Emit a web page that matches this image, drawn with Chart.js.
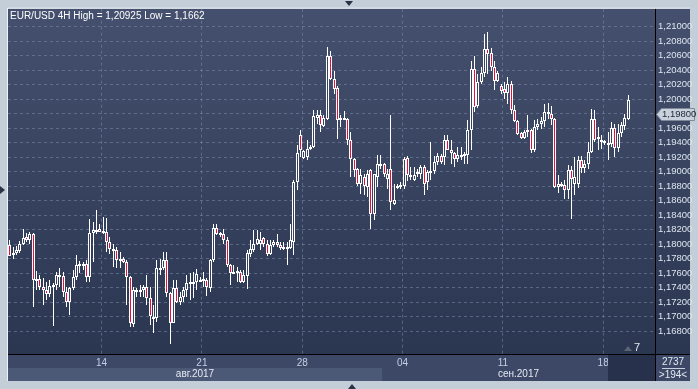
<!DOCTYPE html>
<html>
<head>
<meta charset="utf-8">
<script src="https://cdn.jsdelivr.net/npm/chart.js@4/dist/chart.umd.min.js"></script>
<style>
  html, body { margin: 0; padding: 0; background: #c4ced9; }
  canvas { display: block; }
</style>
</head>
<body>
<canvas id="chart" width="698" height="389"></canvas>
<script>

// EUR/USD 4H candles (oldest first)
const opens = [
  1.17988, 1.17859, 1.17882, 1.17910, 1.18010, 1.18102, 1.18065, 1.18139, 1.17497, 1.17515,
  1.17414, 1.17369, 1.17314, 1.17424, 1.17437, 1.17575, 1.17561, 1.17346, 1.17208, 1.17391,
  1.17552, 1.17712, 1.17735, 1.17735, 1.17543, 1.18162, 1.18185, 1.18212, 1.18157, 1.18171,
  1.18033, 1.17910, 1.17919, 1.17772, 1.17804, 1.17758, 1.17543, 1.16901, 1.17346, 1.17359,
  1.17369, 1.17414, 1.17254, 1.16992, 1.16988, 1.17653, 1.17667, 1.17781, 1.17323, 1.16919,
  1.17391, 1.17208, 1.17277, 1.17369, 1.17460, 1.17460, 1.17483, 1.17497, 1.17497, 1.17506,
  1.17391, 1.17781, 1.18231, 1.18139, 1.18148, 1.18065, 1.17712, 1.17612, 1.17612, 1.17621,
  1.17483, 1.17561, 1.17873, 1.17928, 1.18001, 1.18001, 1.18088, 1.18001, 1.17873, 1.17988,
  1.18033, 1.17988, 1.17955, 1.17955, 1.17955, 1.18034, 1.18859, 1.19510, 1.19194, 1.19203,
  1.19309, 1.19341, 1.19744, 1.19776, 1.19625, 1.19730, 1.20602, 1.20281, 1.20157, 1.19717,
  1.19717, 1.19730, 1.19432, 1.19180, 1.19043, 1.18827, 1.18928, 1.18791, 1.19029, 1.18424,
  1.18928, 1.19079, 1.19102, 1.18905, 1.19043, 1.18561, 1.18781, 1.18791, 1.18800, 1.19189,
  1.18928, 1.18882, 1.18965, 1.18974, 1.19066, 1.18859, 1.18997, 1.19011, 1.19134, 1.19212,
  1.19203, 1.19432, 1.19304, 1.19258, 1.19180, 1.19212, 1.19235, 1.19235, 1.19579, 1.20418,
  1.19900, 1.20235, 1.20359, 1.20693, 1.20638, 1.20441, 1.20258, 1.20189, 1.20143, 1.20084,
  1.20212, 1.19845, 1.19698, 1.19533, 1.19469, 1.19547, 1.19570, 1.19295, 1.19616, 1.19662,
  1.19698, 1.19822, 1.19799, 1.19730, 1.18791, 1.18836, 1.18813, 1.18754, 1.19029, 1.18827,
  1.18827, 1.19167, 1.19056, 1.19111, 1.19272, 1.19730, 1.19451, 1.19410, 1.19400, 1.19387,
  1.19387, 1.19607, 1.19332, 1.19533, 1.19625, 1.19730
];
const highs = [
  1.18056, 1.17965, 1.17974, 1.18043, 1.18217, 1.18157, 1.18171, 1.18157, 1.17634, 1.17575,
  1.17529, 1.17483, 1.17506, 1.17460, 1.17621, 1.17667, 1.17621, 1.17414, 1.17414, 1.17644,
  1.17850, 1.17772, 1.17758, 1.17781, 1.18354, 1.18308, 1.18469, 1.18286, 1.18377, 1.18368,
  1.18102, 1.18010, 1.17965, 1.17896, 1.17827, 1.17790, 1.17561, 1.17414, 1.17391, 1.17437,
  1.17437, 1.17575, 1.17414, 1.17162, 1.17781, 1.17804, 1.17896, 1.17896, 1.17346, 1.17506,
  1.17506, 1.17346, 1.17414, 1.17575, 1.17598, 1.17621, 1.17653, 1.17552, 1.17621, 1.17529,
  1.17804, 1.18276, 1.18276, 1.18171, 1.18217, 1.18102, 1.17735, 1.17712, 1.17689, 1.17644,
  1.17644, 1.17919, 1.18056, 1.18194, 1.18203, 1.18171, 1.18102, 1.18056, 1.18065, 1.18056,
  1.18139, 1.18033, 1.18033, 1.18033, 1.18286, 1.18882, 1.19364, 1.19579, 1.19304, 1.19432,
  1.19364, 1.19845, 1.19845, 1.19854, 1.19776, 1.20716, 1.20670, 1.20386, 1.20189, 1.19776,
  1.19836, 1.19744, 1.19547, 1.19189, 1.19056, 1.19043, 1.18974, 1.19029, 1.19043, 1.18974,
  1.19226, 1.19226, 1.19121, 1.19043, 1.19785, 1.18836, 1.18836, 1.18859, 1.19203, 1.19212,
  1.19066, 1.19066, 1.19043, 1.19098, 1.19098, 1.19020, 1.19410, 1.19212, 1.19258, 1.19249,
  1.19501, 1.19501, 1.19432, 1.19272, 1.19341, 1.19341, 1.19272, 1.19708, 1.20533, 1.20602,
  1.20349, 1.20441, 1.20900, 1.20925, 1.20707, 1.20524, 1.20395, 1.20212, 1.20235, 1.20304,
  1.20258, 1.19914, 1.19708, 1.19547, 1.19570, 1.19776, 1.19593, 1.19708, 1.19730, 1.19753,
  1.19928, 1.19946, 1.19900, 1.19744, 1.18951, 1.18859, 1.18882, 1.19089, 1.19075, 1.19203,
  1.19212, 1.19212, 1.19167, 1.19410, 1.19868, 1.19845, 1.19616, 1.19501, 1.19432, 1.19547,
  1.19685, 1.19662, 1.19662, 1.19685, 1.19799, 1.20065
];
const lows = [
  1.17836, 1.17804, 1.17850, 1.17882, 1.17988, 1.18033, 1.18010, 1.17130, 1.17369, 1.17369,
  1.17162, 1.17231, 1.17277, 1.16873, 1.17369, 1.17414, 1.17277, 1.17139, 1.17025, 1.17369,
  1.17506, 1.17598, 1.17644, 1.17483, 1.17483, 1.17758, 1.18148, 1.18166, 1.18148, 1.17896,
  1.17873, 1.17689, 1.17667, 1.17667, 1.17745, 1.17162, 1.16864, 1.16864, 1.17277, 1.17277,
  1.17277, 1.17162, 1.16887, 1.16782, 1.16933, 1.17575, 1.17644, 1.17277, 1.16620, 1.16910,
  1.17185, 1.17162, 1.17208, 1.17277, 1.17231, 1.17254, 1.17369, 1.17483, 1.17414, 1.17286,
  1.17346, 1.17758, 1.18125, 1.18102, 1.18010, 1.17689, 1.17437, 1.17598, 1.17483, 1.17460,
  1.17460, 1.17378, 1.17827, 1.17896, 1.17988, 1.17919, 1.17965, 1.17836, 1.17850, 1.17965,
  1.17965, 1.17919, 1.17919, 1.17712, 1.17942, 1.17846, 1.18745, 1.19203, 1.19180, 1.19157,
  1.19295, 1.19332, 1.19662, 1.19547, 1.19616, 1.19708, 1.20267, 1.20074, 1.19455, 1.19616,
  1.19708, 1.19364, 1.18928, 1.18928, 1.18800, 1.18699, 1.18676, 1.18653, 1.18208, 1.18332,
  1.18791, 1.19043, 1.18928, 1.18768, 1.18470, 1.18538, 1.18768, 1.18768, 1.18768, 1.18873,
  1.18882, 1.18868, 1.18928, 1.18905, 1.18676, 1.18745, 1.18882, 1.18974, 1.19089, 1.19111,
  1.19089, 1.19295, 1.19111, 1.19066, 1.19134, 1.19157, 1.19111, 1.19111, 1.19295, 1.19822,
  1.19882, 1.20212, 1.20304, 1.20349, 1.20395, 1.20129, 1.20235, 1.20074, 1.20006, 1.19937,
  1.19799, 1.19685, 1.19501, 1.19455, 1.19455, 1.19478, 1.19258, 1.19272, 1.19570, 1.19593,
  1.19616, 1.19730, 1.19639, 1.18781, 1.18708, 1.18791, 1.18630, 1.18630, 1.18355, 1.18676,
  1.18781, 1.18983, 1.18983, 1.19043, 1.19258, 1.19410, 1.19295, 1.19318, 1.19364, 1.19157,
  1.19341, 1.19203, 1.19272, 1.19478, 1.19570, 1.19717
];
const closes = [
  1.17841, 1.17887, 1.17928, 1.18010, 1.18093, 1.18065, 1.18139, 1.17506, 1.17515, 1.17414,
  1.17369, 1.17314, 1.17428, 1.17442, 1.17575, 1.17552, 1.17346, 1.17208, 1.17391, 1.17552,
  1.17712, 1.17735, 1.17699, 1.17543, 1.18162, 1.18194, 1.18203, 1.18176, 1.18185, 1.18033,
  1.17942, 1.17937, 1.17781, 1.17795, 1.17758, 1.17552, 1.16910, 1.17369, 1.17369, 1.17369,
  1.17414, 1.17254, 1.17011, 1.17002, 1.17667, 1.17667, 1.17781, 1.17323, 1.16919, 1.17391,
  1.17208, 1.17277, 1.17369, 1.17460, 1.17474, 1.17483, 1.17589, 1.17506, 1.17515, 1.17405,
  1.17781, 1.18231, 1.18148, 1.18157, 1.18056, 1.17712, 1.17607, 1.17625, 1.17630, 1.17483,
  1.17575, 1.17882, 1.17942, 1.18001, 1.18079, 1.18065, 1.18001, 1.17873, 1.17988, 1.18033,
  1.17988, 1.17955, 1.17965, 1.17965, 1.18056, 1.18859, 1.19258, 1.19295, 1.19286, 1.19318,
  1.19341, 1.19763, 1.19776, 1.19648, 1.19744, 1.20602, 1.20281, 1.20143, 1.19717, 1.19740,
  1.19744, 1.19432, 1.19180, 1.19029, 1.18827, 1.18951, 1.18800, 1.18965, 1.18424, 1.18965,
  1.19102, 1.19102, 1.18965, 1.18965, 1.18584, 1.18607, 1.18804, 1.18823, 1.19180, 1.18951,
  1.18951, 1.18951, 1.18997, 1.19066, 1.18836, 1.18997, 1.19011, 1.19134, 1.19212, 1.19134,
  1.19432, 1.19304, 1.19258, 1.19180, 1.19226, 1.19235, 1.19249, 1.19579, 1.20418, 1.19891,
  1.20235, 1.20359, 1.20693, 1.20625, 1.20441, 1.20258, 1.20359, 1.20111, 1.20084, 1.20212,
  1.19845, 1.19698, 1.19524, 1.19469, 1.19547, 1.19570, 1.19295, 1.19616, 1.19662, 1.19698,
  1.19822, 1.19790, 1.19730, 1.18791, 1.18836, 1.18813, 1.18754, 1.19029, 1.18905, 1.18928,
  1.19167, 1.19056, 1.19111, 1.19272, 1.19730, 1.19442, 1.19478, 1.19432, 1.19419, 1.19400,
  1.19607, 1.19332, 1.19538, 1.19639, 1.19744, 1.19992
];

// price axis ticks and date axis (Monday positions in bar units)
const priceTicks = [1.168, 1.170, 1.172, 1.174, 1.176, 1.178, 1.180, 1.182, 1.184, 1.186,
                    1.188, 1.190, 1.192, 1.194, 1.196, 1.198, 1.200, 1.202, 1.204, 1.206, 1.208, 1.210];
const mondayIdx = [27.5, 57.5, 87.5, 117.5, 147.5, 177.5];
const dayLabels = ['14', '21', '28', '04', '11', '18'];
const monthLabels = ['авг.2017', 'сен.2017'];
const lastPrice = 1.198;
const titleText = 'EUR/USD 4H High = 1,20925 Low = 1,1662';

const RED = '#e8103a';
const HOLLOW = '#36425e';
const FONT = '"Liberation Sans", Arial, sans-serif';

// bodies and wicks as floating bars
let bodyData = opens.map((o, i) => ({x: i, y: [o, closes[i]]}));
let wickData = highs.map((h, i) => ({x: i, y: [lows[i], h]}));

function fmt(v){
  return v.toFixed(5).replace('.', ',');
}

// snap bars to whole pixels so the candles look crisp like the original
const snapPlugin = {
  id: 'snap',
  afterDatasetsUpdate(chart){
    chart.getSortedVisibleDatasetMetas().forEach(meta => {
      meta.data.forEach(el => {
        el.x = Math.floor(el.x) + 0.5;
        let top = Math.round(Math.min(el.y, el.base));
        let bot = Math.round(Math.max(el.y, el.base));
        if (meta.index === 0 && bot - top < 2) bot = top + 2;
        el.y = top;
        el.base = bot;
      });
    });
  }
};

// window frame, bands and labels around the plot
const framePlugin = {
  id: 'frame',
  beforeDraw(chart){
    const {ctx, chartArea: a} = chart;
    ctx.save();
    ctx.fillStyle = '#c4ced9';
    ctx.fillRect(0, 0, chart.width, chart.height);

    let g = ctx.createLinearGradient(0, a.top, 0, a.bottom);
    g.addColorStop(0, '#44506d');
    g.addColorStop(1, '#2b3651');
    ctx.fillStyle = g;
    ctx.fillRect(a.left, a.top, 690 - a.left, a.bottom - a.top);

    // date row + month row
    ctx.fillStyle = '#3c4865';
    ctx.fillRect(a.left, a.bottom, 690 - a.left, 27);
    ctx.fillStyle = '#4b5876';
    ctx.fillRect(a.left, a.bottom + 14, 382 - a.left, 13);
    ctx.restore();
  },
  afterDraw(chart){
    const {ctx, chartArea: a} = chart;
    ctx.save();

    // dark box in the bottom right of the date axis
    ctx.fillStyle = '#27314b';
    ctx.fillRect(608, a.bottom + 1, a.right - 608, 26);

    // separators
    ctx.strokeStyle = '#000000';
    ctx.lineWidth = 1;
    ctx.beginPath();
    ctx.moveTo(a.left, a.bottom + 0.5); ctx.lineTo(690, a.bottom + 0.5);
    ctx.moveTo(a.right + 0.5, a.top); ctx.lineTo(a.right + 0.5, a.bottom + 27);
    ctx.stroke();

    // light edge of the panel
    ctx.strokeStyle = '#eef2f6';
    ctx.beginPath();
    ctx.moveTo(a.left - 0.5, a.bottom + 27); ctx.lineTo(a.left - 0.5, a.top - 0.5); ctx.lineTo(690, a.top - 0.5);
    ctx.stroke();

    ctx.font = '10px ' + FONT;
    ctx.textBaseline = 'middle';
    ctx.textAlign = 'center';
    ctx.fillStyle = '#e4eaf2';
    ctx.fillText(monthLabels[0], (a.left + 382) / 2, a.bottom + 20.5);
    ctx.fillText(monthLabels[1], (382 + a.right) / 2, a.bottom + 20.5);

    // bar counter box
    ctx.fillText('2737', 673, a.bottom + 8);
    ctx.fillText('>194<', 673, a.bottom + 21);
    ctx.strokeStyle = '#c8d2de';
    ctx.beginPath();
    ctx.moveTo(662, a.bottom + 14.5); ctx.lineTo(685, a.bottom + 14.5);
    ctx.stroke();

    // shift marker
    ctx.fillStyle = '#5a6374';
    ctx.beginPath();
    ctx.moveTo(624, 351); ctx.lineTo(628, 346); ctx.lineTo(632, 351); ctx.closePath();
    ctx.fill();
    ctx.fillStyle = '#e8edf3';
    ctx.font = '11px ' + FONT;
    ctx.fillText('7', 637, 348);

    // title
    ctx.font = '10px ' + FONT;
    ctx.textAlign = 'left';
    ctx.textBaseline = 'alphabetic';
    ctx.fillStyle = '#ffffff';
    ctx.fillText(titleText, 10, 19);

    // last price tag
    const py = Math.round(chart.scales.y.getPixelForValue(lastPrice)) + 0.5;
    ctx.fillStyle = '#c9d1dc';
    ctx.strokeStyle = '#7d8898';
    ctx.beginPath();
    ctx.moveTo(656.5, py); ctx.lineTo(661.5, py - 6); ctx.lineTo(694.5, py - 6);
    ctx.lineTo(694.5, py + 6); ctx.lineTo(661.5, py + 6); ctx.closePath();
    ctx.fill(); ctx.stroke();
    ctx.fillStyle = '#222a38';
    ctx.font = '9.5px ' + FONT;
    ctx.textBaseline = 'middle';
    ctx.fillText(fmt(lastPrice), 662, py);

    // little scroll arrows of the window
    ctx.fillStyle = '#2a3345';
    ctx.beginPath();
    ctx.moveTo(345, 1); ctx.lineTo(353, 1); ctx.lineTo(349, 6); ctx.closePath();
    ctx.moveTo(348, 389); ctx.lineTo(356, 389); ctx.lineTo(352, 384); ctx.closePath();
    ctx.moveTo(0, 186); ctx.lineTo(5, 190); ctx.lineTo(0, 194); ctx.closePath();
    ctx.fill();

    ctx.restore();
  }
};

new Chart(document.getElementById('chart'), {
  type: 'bar',
  data: {
    datasets: [
      {
        label: 'body',
        data: bodyData,
        order: 0,
        grouped: false,
        barThickness: 3,
        borderWidth: 1,
        borderSkipped: false,
        borderColor: '#ffffff',
        inflateAmount: 0,
        backgroundColor: ctx => closes[ctx.dataIndex] < opens[ctx.dataIndex] ? RED : HOLLOW
      },
      {
        label: 'wick',
        data: wickData,
        order: 1,
        grouped: false,
        barThickness: 1,
        borderWidth: 0,
        inflateAmount: 0,
        backgroundColor: '#ffffff'
      }
    ]
  },
  options: {
    responsive: false,
    devicePixelRatio: 1,
    animation: false,
    layout: { padding: { left: 8, top: 8, right: 0, bottom: 0 } },
    scales: {
      x: {
        type: 'linear',
        position: 'bottom',
        offset: false,
        min: -0.5,
        max: 193,
        afterBuildTicks: scale => { scale.ticks = mondayIdx.map(v => ({value: v})); },
        afterFit: scale => { scale.height = 35; },
        grid: { color: 'rgba(130,146,178,0.5)', drawTicks: false, offset: false },
        border: { display: false, dash: [3, 3] },
        ticks: {
          autoSkip: false,
          maxRotation: 0,
          padding: 3,
          color: '#c3d0e4',
          font: { family: FONT, size: 10 },
          callback: (v, i) => dayLabels[i]
        }
      },
      y: {
        position: 'right',
        min: 1.16488,
        max: 1.21248,
        afterBuildTicks: scale => { scale.ticks = priceTicks.map(v => ({value: v})); },
        afterFit: scale => { scale.width = 43; },
        grid: { color: 'rgba(130,146,178,0.5)', drawTicks: false },
        border: { display: false, dash: [3, 3] },
        ticks: {
          padding: 3,
          color: '#dde5ef',
          font: { family: FONT, size: 9.5 },
          callback: v => fmt(v)
        }
      }
    },
    plugins: {
      legend: { display: false },
      tooltip: { enabled: false }
    }
  },
  plugins: [snapPlugin, framePlugin]
});
</script>
</body>
</html>
